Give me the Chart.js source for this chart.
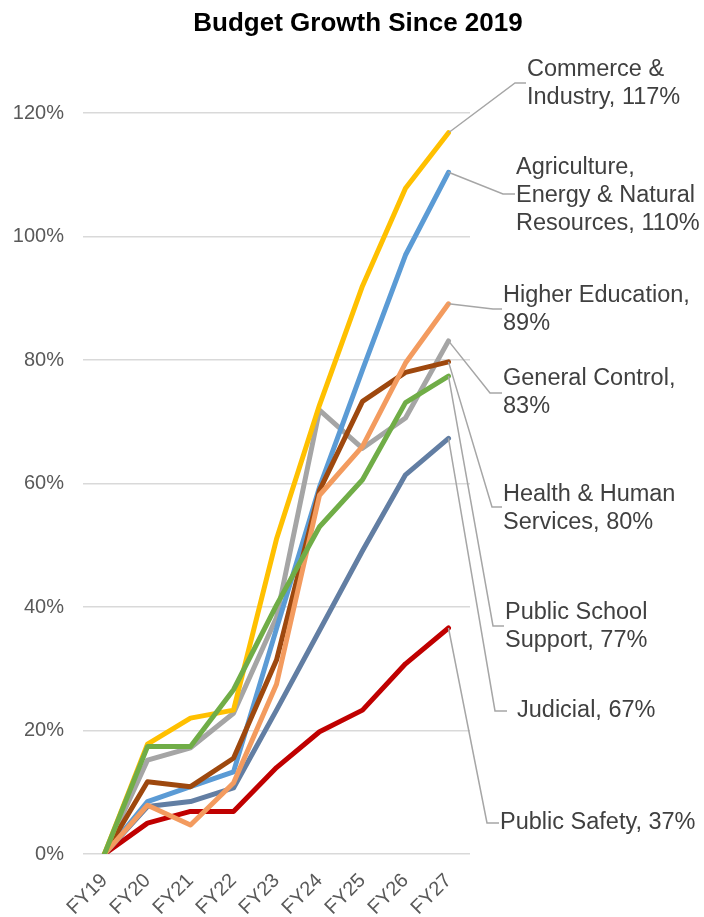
<!DOCTYPE html>
<html lang="en">
<head>
    <meta charset="UTF-8">
    <title>Budget Growth Since 2019</title>
    <script src="https://cdn.jsdelivr.net/npm/chart.js"></script>
    <style>
        body { margin: 0; background: #fff; }
    </style>
</head>
<body>
    <canvas id="graph" width="704" height="917"></canvas>
</body>
<script>
    // values (percent growth since FY19)
    const years = ['FY19', 'FY20', 'FY21', 'FY22', 'FY23', 'FY24', 'FY25', 'FY26', 'FY27'];
    const yTicks = [0, 20, 40, 60, 80, 100, 120];

    const publicSchool   = [0, 17.4, 17.4, 26.6, 40.3, 53.0, 60.6, 73.1, 77.4];
    const commerce       = [0, 17.8, 22.0, 23.3, 51.0, 72.7, 92.0, 107.8, 116.8];
    const higherEd       = [0, 7.9, 4.7, 11.5, 27.5, 58.1, 66.0, 79.5, 89.1];
    const health         = [0, 11.7, 10.9, 15.5, 31.4, 58.9, 73.3, 78.0, 79.7];
    const agriculture    = [0, 8.5, 10.9, 13.3, 36.5, 59.4, 78.4, 97.0, 110.4];
    const generalControl = [0, 15.2, 17.2, 22.8, 38.3, 71.9, 65.7, 70.6, 83.1];
    const judicial       = [0, 7.7, 8.5, 10.7, 23.3, 36.2, 49.1, 61.4, 67.3];
    const publicSafety   = [0, 5.0, 6.9, 6.9, 14.0, 19.8, 23.3, 30.8, 36.6];

    const title = 'Budget Growth Since 2019';

    // label text (value is appended from the last point)
    const names = {
        publicSchool: ['Public School', 'Support, '],
        commerce: ['Commerce &', 'Industry, '],
        higherEd: ['Higher Education,', ''],
        health: ['Health & Human', 'Services, '],
        agriculture: ['Agriculture,', 'Energy & Natural', 'Resources, '],
        generalControl: ['General Control,', ''],
        judicial: ['Judicial, '],
        publicSafety: ['Public Safety, ']
    };

    // where each callout sits: text left/top line, elbow of the leader line
    const callouts = {
        commerce:       { x: 527, y: 70,  elbow: [515, 83],  end: 526 },
        agriculture:    { x: 516, y: 168, elbow: [503, 194], end: 515 },
        higherEd:       { x: 503, y: 296, elbow: [493, 309], end: 502 },
        generalControl: { x: 503, y: 379, elbow: [490, 393], end: 502 },
        health:         { x: 503, y: 495, elbow: [492, 507], end: 502 },
        publicSchool:   { x: 505, y: 613, elbow: [493, 626], end: 504 },
        judicial:       { x: 517, y: 711, elbow: [495, 711], end: 507 },
        publicSafety:   { x: 500, y: 823, elbow: [487, 823], end: 499 }
    };

    const series = [
        { key: 'publicSchool', data: publicSchool, color: '#70AD47' },
        { key: 'commerce', data: commerce, color: '#FFC000' },
        { key: 'higherEd', data: higherEd, color: '#F39B5F' },
        { key: 'health', data: health, color: '#9E480E' },
        { key: 'agriculture', data: agriculture, color: '#5B9BD5' },
        { key: 'generalControl', data: generalControl, color: '#A5A5A5' },
        { key: 'judicial', data: judicial, color: '#627EA3' },
        { key: 'publicSafety', data: publicSafety, color: '#C00000' }
    ];

    const FONT = "'Liberation Sans', Arial, sans-serif";
    Chart.defaults.font.family = FONT;

    const calloutPlugin = {
        id: 'callouts',
        afterDatasetsDraw(chart) {
            const ctx = chart.ctx;
            ctx.save();
            // title, centred over the whole picture incl. the labels
            ctx.fillStyle = '#000';
            ctx.font = 'bold 26px ' + FONT;
            ctx.textAlign = 'center';
            ctx.textBaseline = 'middle';
            ctx.fillText(title, 358, 24);

            chart.data.datasets.forEach((ds, i) => {
                const meta = chart.getDatasetMeta(i);
                const last = meta.data[meta.data.length - 1];
                const c = callouts[ds.key];
                ctx.strokeStyle = '#A6A6A6';
                ctx.lineWidth = 1.5;
                ctx.beginPath();
                ctx.moveTo(last.x, last.y);
                ctx.lineTo(c.elbow[0], c.elbow[1]);
                ctx.lineTo(c.end, c.elbow[1]);
                ctx.stroke();

                const value = Math.round(ds.data[ds.data.length - 1]) + '%';
                const lines = names[ds.key].slice();
                lines[lines.length - 1] += value;
                ctx.fillStyle = '#404040';
                ctx.font = '23.5px ' + FONT;
                ctx.textAlign = 'left';
                ctx.textBaseline = 'middle';
                lines.forEach((t, j) => ctx.fillText(t, c.x, c.y + j * 28));
            });
            ctx.restore();
        }
    };

    new Chart(document.getElementById('graph'), {
        type: 'line',
        data: {
            labels: years,
            datasets: series.map(s => ({
                key: s.key,
                label: s.key,
                data: s.data,
                borderColor: s.color,
                backgroundColor: s.color,
                borderWidth: 5,
                borderCapStyle: 'round',
                borderJoinStyle: 'round',
                pointRadius: 0,
                tension: 0
            }))
        },
        options: {
            responsive: false,
            animation: false,
            layout: { padding: { left: 0, right: 234, top: 113, bottom: 0 } },
            plugins: {
                legend: { display: false },
                tooltip: { enabled: false },
                title: { display: false }
            },
            scales: {
                x: {
                    offset: true,
                    grid: { display: false },
                    border: { display: false },
                    ticks: {
                        color: '#595959',
                        font: { size: 20 },
                        minRotation: 45,
                        maxRotation: 45,
                        padding: 7
                    },
                    afterFit(scale) { scale.height = 63; }
                },
                y: {
                    min: 0,
                    max: 120,
                    border: { display: false },
                    grid: { color: '#D9D9D9', lineWidth: 1.5, drawTicks: false },
                    afterBuildTicks(scale) { scale.ticks = yTicks.map(v => ({ value: v })); },
                    ticks: {
                        color: '#595959',
                        font: { size: 20 },
                        padding: 19,
                        callback: v => v + '%'
                    },
                    afterFit(scale) { scale.width = 83; }
                }
            }
        },
        plugins: [calloutPlugin]
    });
</script>
</html>
